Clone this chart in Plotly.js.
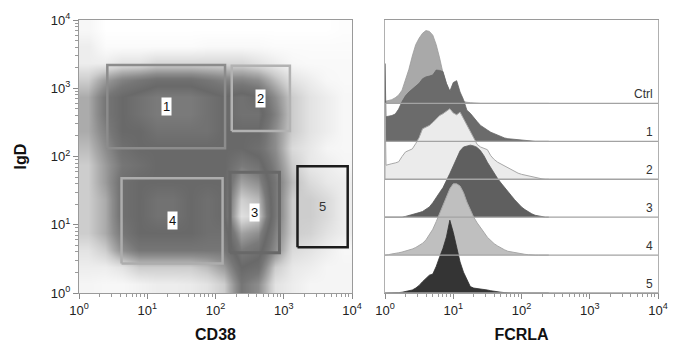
<!DOCTYPE html>
<html><head><meta charset="utf-8">
<script src="https://cdn.plot.ly/plotly-3.0.1.min.js"></script>
<style>html,body{margin:0;padding:0;background:#fff}#chart{width:680px;height:344px}</style>
</head><body><div id="chart"></div>
<script>
// ---------- Left panel: CD38 vs IgD event density (grid) ----------
const cd38Centers = [1.334, 2.371, 4.217, 7.499, 13.34, 23.71, 42.17, 74.99, 133.4, 237.1, 421.7, 749.9, 1334, 2371, 4217, 7499];
const igdCenters  = [1.334, 2.371, 4.217, 7.499, 13.34, 23.71, 42.17, 74.99, 133.4, 237.1, 421.7, 749.9, 1334, 2371, 4217, 7499];
// relative event density, rows = IgD (low -> high), cols = CD38 (low -> high)
const density = [
  [0.5,0.4,0.4,0.6,0.8,0.8,0.9,1.2,2,5,4,1.2,0.8,0.5,0.5,0.5],
  [0.8,0.8,1.2,2,2,2,2,2.5,3.5,6,5.5,2,1,0.8,0.5,0.5],
  [1.2,2,4,5,5,5,5,5,5,7,6.5,4,1.5,1.2,0.8,0.4],
  [2,3,5,6,6,6,6,5.5,5.5,8,7.5,4.5,2,1.8,1.2,0.8],
  [2,3,5.5,6,6.5,6.5,6,5.5,6,9.5,9,5,2,2,1.5,0.8],
  [2,3,5.5,6,6.5,6.5,6,5.5,6,9,8.5,5,2,2,1.5,0.8],
  [2,3.5,5.5,6,6,6,6,6,6,8,7.5,5,2.5,1.5,1,0.8],
  [2,3.5,5,5.5,6,6,6,6,6,7,6.5,4.5,2,1,0.8,0.5],
  [2.5,4,5.5,6,6,6,6,6,6,6,5.5,4,1.5,1,0.5,0.4],
  [3,4.5,6,6,6.5,6.5,6.5,6.5,6,6,6,4,2,1.2,0.8,0.4],
  [3,5,6,6.5,7,7,7,6.5,6,6.5,6.5,4.5,2,1.2,0.8,0.4],
  [3,5,6,6.5,7,7,7,6.5,6,6.5,6,4,2,1.2,0.8,0.4],
  [2,3.5,4.5,5,5.5,5.5,5.5,5,4.5,4.5,4,2.5,1.2,0.8,0.4,0.3],
  [0.8,0.8,1.2,1.2,1.6,1.6,1.6,1.6,1.6,1.6,1.2,0.8,0.4,0.3,0.3,0.3],
  [0.8,0.2,0.2,0.2,0.2,0.2,0.2,0.3,0.3,0.3,0.3,0.2,0.2,0.2,0.2,0.2],
  [0.4,0,0,0,0,0,0,0,0,0,0,0,0,0,0,0.1]
];
// gates
const gateNames   = ['1', '2', '3', '4', '5'];
const gateCD38Low = [2.6, 173, 163, 4.2, 1590];
const gateCD38High= [138, 1230, 865, 127, 8650];
const gateIgDLow  = [132, 236, 3.9, 2.7, 4.7];
const gateIgDHigh = [2190, 2140, 58.6, 48, 72];

// ---------- Right panel: FCRLA offset histograms ----------
const fcrlaBins = [1, 1.035, 1.122, 1.259, 1.413, 1.585, 1.778, 1.995, 2.239, 2.512, 2.818, 3.162, 3.548, 3.981, 4.467, 5.012, 5.623, 6.310, 7.079, 7.943, 8.913, 10, 11.22, 12.59, 14.13, 15.85, 17.78, 19.95, 22.39, 25.12, 28.18, 31.62, 35.48, 39.81, 44.67, 50.12, 56.23, 63.10, 70.79, 79.43, 89.13, 100, 112.2, 125.9, 141.3, 158.5, 177.8, 199.5, 223.9, 251.2];
const countsCtrl = [0.05,0.06,0.07,0.1,0.15,0.22,0.35,0.6,0.9,1.25,1.55,1.72,1.85,1.92,1.9,1.8,1.55,1.2,0.8,0.52,0.32,0.2,0.12,0.07,0.04,0.03,0.02,0.01,0,0,0,0,0,0,0,0,0,0,0,0,0,0,0,0,0,0,0,0,0,0];
const counts1 = [2.05,0.65,0.66,0.68,0.72,0.85,1.05,1.2,1.3,1.38,1.45,1.53,1.65,1.7,1.72,1.75,1.88,1.87,1.84,1.53,1.32,1.55,1.6,1.3,1.1,0.82,0.74,0.62,0.52,0.42,0.35,0.3,0.24,0.2,0.15,0.11,0.09,0.07,0.06,0.05,0.05,0.04,0.03,0.02,0.01,0,0,0,0,0];
const counts2 = [2.0,0.37,0.38,0.41,0.43,0.46,0.6,0.72,0.76,0.8,0.94,1.1,1.33,1.38,1.42,1.5,1.6,1.68,1.73,1.8,1.86,1.75,1.7,1.77,1.6,1.42,1.25,1.07,0.92,0.85,0.82,0.78,0.62,0.52,0.45,0.4,0.35,0.29,0.24,0.2,0.16,0.13,0.11,0.08,0.06,0.04,0.02,0.01,0,0];
const counts3 = [0,0,0,0,0,0,0,0.02,0.04,0.07,0.1,0.12,0.15,0.2,0.27,0.38,0.5,0.65,0.78,0.95,1.15,1.35,1.55,1.75,1.85,1.88,1.9,1.88,1.84,1.75,1.62,1.45,1.3,1.15,1.02,0.9,0.8,0.68,0.57,0.46,0.36,0.27,0.2,0.14,0.09,0.05,0.03,0.01,0,0];
const counts4 = [0,0,0.01,0.03,0.04,0.06,0.08,0.1,0.13,0.16,0.2,0.25,0.31,0.4,0.53,0.68,0.88,1.1,1.36,1.55,1.75,1.88,1.88,1.82,1.65,1.4,1.2,1.0,0.85,0.74,0.6,0.47,0.38,0.3,0.24,0.18,0.14,0.1,0.08,0.06,0.04,0.03,0.02,0.01,0,0,0,0,0,0];
const counts5 = [0,0,0,0,0,0.01,0.02,0.04,0.06,0.08,0.13,0.2,0.3,0.38,0.47,0.5,0.7,0.95,1.18,1.48,1.92,1.6,1.2,0.82,0.55,0.34,0.17,0.13,0.12,0.11,0.1,0.08,0.06,0.04,0.03,0.02,0.01,0,0,0,0,0,0,0,0,0,0,0,0,0];
const rowLabels = ['Ctrl', '1', '2', '3', '4', '5'];
const rowCounts = [countsCtrl, counts1, counts2, counts3, counts4, counts5];

// ---------- axis ticks ----------
const decadeValues = [1, 10, 100, 1000, 10000];
const decadeLabels = ['10<sup>0</sup>', '10<sup>1</sup>', '10<sup>2</sup>', '10<sup>3</sup>', '10<sup>4</sup>'];
const minorMultipliers = [2, 3, 4, 5, 6, 7, 8, 9];

// ---------- build ----------
const L = Math.log10;
const majorTicks = decadeValues.map(L);
const minorTicks = [];
decadeValues.slice(0, -1).forEach(d => minorMultipliers.forEach(m => minorTicks.push(L(d * m))));

const FONT = 'Liberation Sans, Arial, Helvetica, sans-serif';
const gateStyle = [
  {color: '#8c8c8c', width: 2.5},
  {color: '#b2b2b2', width: 2.5},
  {color: '#686868', width: 3},
  {color: '#adadad', width: 2.5},
  {color: '#1c1c1c', width: 2.5}
];
const histStyle = [
  {fill: '#a9a9a9', line: '#9a9a9a', width: 0.8},
  {fill: '#6b6b6b', line: '#666666', width: 0.8},
  {fill: '#ebebeb', line: '#a8a8a8', width: 1},
  {fill: '#5f5f5f', line: '#5a5a5a', width: 0.8},
  {fill: '#bfbfbf', line: '#a8a8a8', width: 1},
  {fill: '#343434', line: '#303030', width: 0.8}
];

const traces = [];
traces.push({
  type: 'heatmap', xaxis: 'x', yaxis: 'y',
  x: cd38Centers.map(L), y: igdCenters.map(L), z: density,
  zmin: 0, zmax: 10, zsmooth: 'best', showscale: false, hoverinfo: 'skip',
  colorscale: [
    [0, '#ffffff'], [0.05, '#f5f5f5'], [0.1, '#e8e8e8'], [0.2, '#cdcdcd'],
    [0.3, '#ababab'], [0.4, '#8d8d8d'], [0.5, '#767676'], [0.6, '#696969'],
    [0.7, '#7a7a7a'], [0.8, '#a2a2a2'], [0.9, '#cfcfcf'], [1, '#f2f2f2']
  ]
});
gateNames.forEach((g, i) => {
  const x0 = L(gateCD38Low[i]), x1 = L(gateCD38High[i]);
  const y0 = L(gateIgDLow[i]), y1 = L(gateIgDHigh[i]);
  traces.push({
    type: 'scatter', mode: 'lines', xaxis: 'x', yaxis: 'y', hoverinfo: 'skip',
    x: [x0, x1, x1, x0, x0], y: [y0, y0, y1, y1, y0],
    line: {color: gateStyle[i].color, width: gateStyle[i].width}
  });
});
const nRows = rowLabels.length;
const rowOffset = i => (nRows - 1 - i);
rowCounts.forEach((c, i) => {
  const off = rowOffset(i);
  const xs = fcrlaBins.map(L);
  traces.push({
    type: 'scatter', mode: 'lines', xaxis: 'x2', yaxis: 'y2', hoverinfo: 'skip',
    x: [xs[0], ...xs, xs[xs.length - 1]],
    y: [off, ...c.map(v => off + v), off],
    fill: 'toself', fillcolor: histStyle[i].fill,
    line: {color: histStyle[i].line, width: histStyle[i].width}
  });
});

const tickAxis = {
  range: [0, 4], tickmode: 'array', tickvals: majorTicks, ticktext: decadeLabels,
  ticks: 'outside', ticklen: 5, tickwidth: 1, tickcolor: '#8a8a8a',
  showline: true, linecolor: '#9a9a9a', linewidth: 1.2, mirror: true,
  showgrid: false, zeroline: false,
  tickfont: {family: FONT, size: 13, color: '#222'},
  minor: {tickmode: 'array', tickvals: minorTicks, ticks: 'outside', ticklen: 3, tickcolor: '#9a9a9a', showgrid: false}
};

const shapes = rowLabels.map((r, i) => ({
  type: 'line', xref: 'x2 domain', yref: 'y2', x0: 0, x1: 1,
  y0: rowOffset(i), y1: rowOffset(i), layer: 'above',
  line: {color: '#a3a3a3', width: 1.4}
}));
const annotations = rowLabels.map((r, i) => ({
  xref: 'x2 domain', yref: 'y2', x: 0.99, y: rowOffset(i), xanchor: 'right', yanchor: 'bottom',
  text: r, showarrow: false, font: {family: FONT, size: 12, color: '#333'}
}));
gateNames.forEach((g, i) => {
  annotations.push({
    xref: 'x', yref: 'y',
    x: (L(gateCD38Low[i]) + L(gateCD38High[i])) / 2,
    y: (L(gateIgDLow[i]) + L(gateIgDHigh[i])) / 2,
    text: g, showarrow: false, bgcolor: i < 4 ? '#ffffff' : 'rgba(255,255,255,0)',
    borderpad: 1, font: {family: FONT, size: 13, color: i < 4 ? '#111' : '#333'}
  });
});

const layout = {
  width: 680, height: 344,
  margin: {l: 79, r: 22, t: 20, b: 51},
  paper_bgcolor: '#ffffff', plot_bgcolor: 'rgba(0,0,0,0)',
  showlegend: false,
  font: {family: FONT, color: '#222'},
  xaxis: Object.assign({}, tickAxis, {domain: [0, 0.4715], anchor: 'y',
    title: {text: '<b>CD38</b>', font: {family: FONT, size: 16, color: '#111'}, standoff: 12}}),
  yaxis: Object.assign({}, tickAxis, {domain: [0, 1], anchor: 'x',
    title: {text: '<b>IgD</b>', font: {family: FONT, size: 16, color: '#111'}, standoff: 20}}),
  xaxis2: Object.assign({}, tickAxis, {domain: [0.5285, 1], anchor: 'y2',
    title: {text: '<b>FCRLA</b>', font: {family: FONT, size: 16, color: '#111'}, standoff: 12}}),
  yaxis2: {domain: [0, 1], anchor: 'x2', range: [0, 7.2], showticklabels: false, ticks: '',
    showline: true, linecolor: '#b0b0b0', linewidth: 1.2, mirror: true, showgrid: false, zeroline: false},
  shapes: shapes,
  annotations: annotations
};

Plotly.newPlot('chart', traces, layout, {staticPlot: true, displayModeBar: false});
</script>
</body></html>
